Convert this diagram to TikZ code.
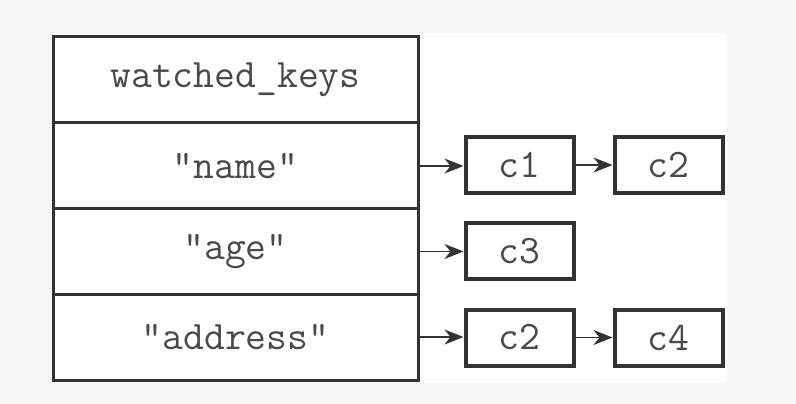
\documentclass[tikz,border=0pt]{standalone}
\usepackage{fontspec}
\usetikzlibrary{arrows.meta}
\definecolor{bggray}{HTML}{F5F5F7}
\definecolor{linec}{HTML}{333333}
\definecolor{textc}{HTML}{4A4A4A}
\tikzset{
  cell/.style={draw=linec, line width=3pt, fill=white, minimum width=365pt, minimum height=86pt, inner sep=0pt, outer sep=0pt, font=\ttfamily\fontsize{40.5}{40.5}\selectfont, text=textc},
  cbox/.style={draw=linec, line width=4pt, fill=white, minimum width=108pt, minimum height=56pt, inner sep=0pt, font=\ttfamily\fontsize{40.5}{40.5}\selectfont, text=textc},
  link/.style={draw=linec, line width=1.3pt, -{Stealth[length=19pt,width=15pt,inset=6pt]}}
}
\begin{document}
\begin{tikzpicture}[x=1pt,y=-1pt]
\useasboundingbox (0,0) rectangle (796,404);
\fill[bggray] (0,0) rectangle (796,404);
\fill[white] (53,33) rectangle (727,383);
\node[cell] (wk) at (235.5,79.5) {watched\_keys};
\node[cell] (name) at (235.5,166) {"name"};
\node[cell] (age) at (235.5,251.5) {"age"};
\node[cell] (addr) at (235.5,337) {"address"};
\node[cbox] (c1) at (519.5,165) {c1};
\node[cbox] (c2a) at (668.5,165) {c2};
\node[cbox] (c3) at (519.5,251) {c3};
\node[cbox] (c2b) at (519.5,337.5) {c2};
\node[cbox] (c4) at (668.5,337.5) {c4};
\draw[link] (name.east) -- (name.east -| c1.west);
\draw[link] (c1.east) -- (c2a.west);
\draw[link] (age.east) -- (age.east -| c3.west);
\draw[link] (addr.east) -- (addr.east -| c2b.west);
\draw[link] (c2b.east) -- (c4.west);
\end{tikzpicture}
\end{document}
